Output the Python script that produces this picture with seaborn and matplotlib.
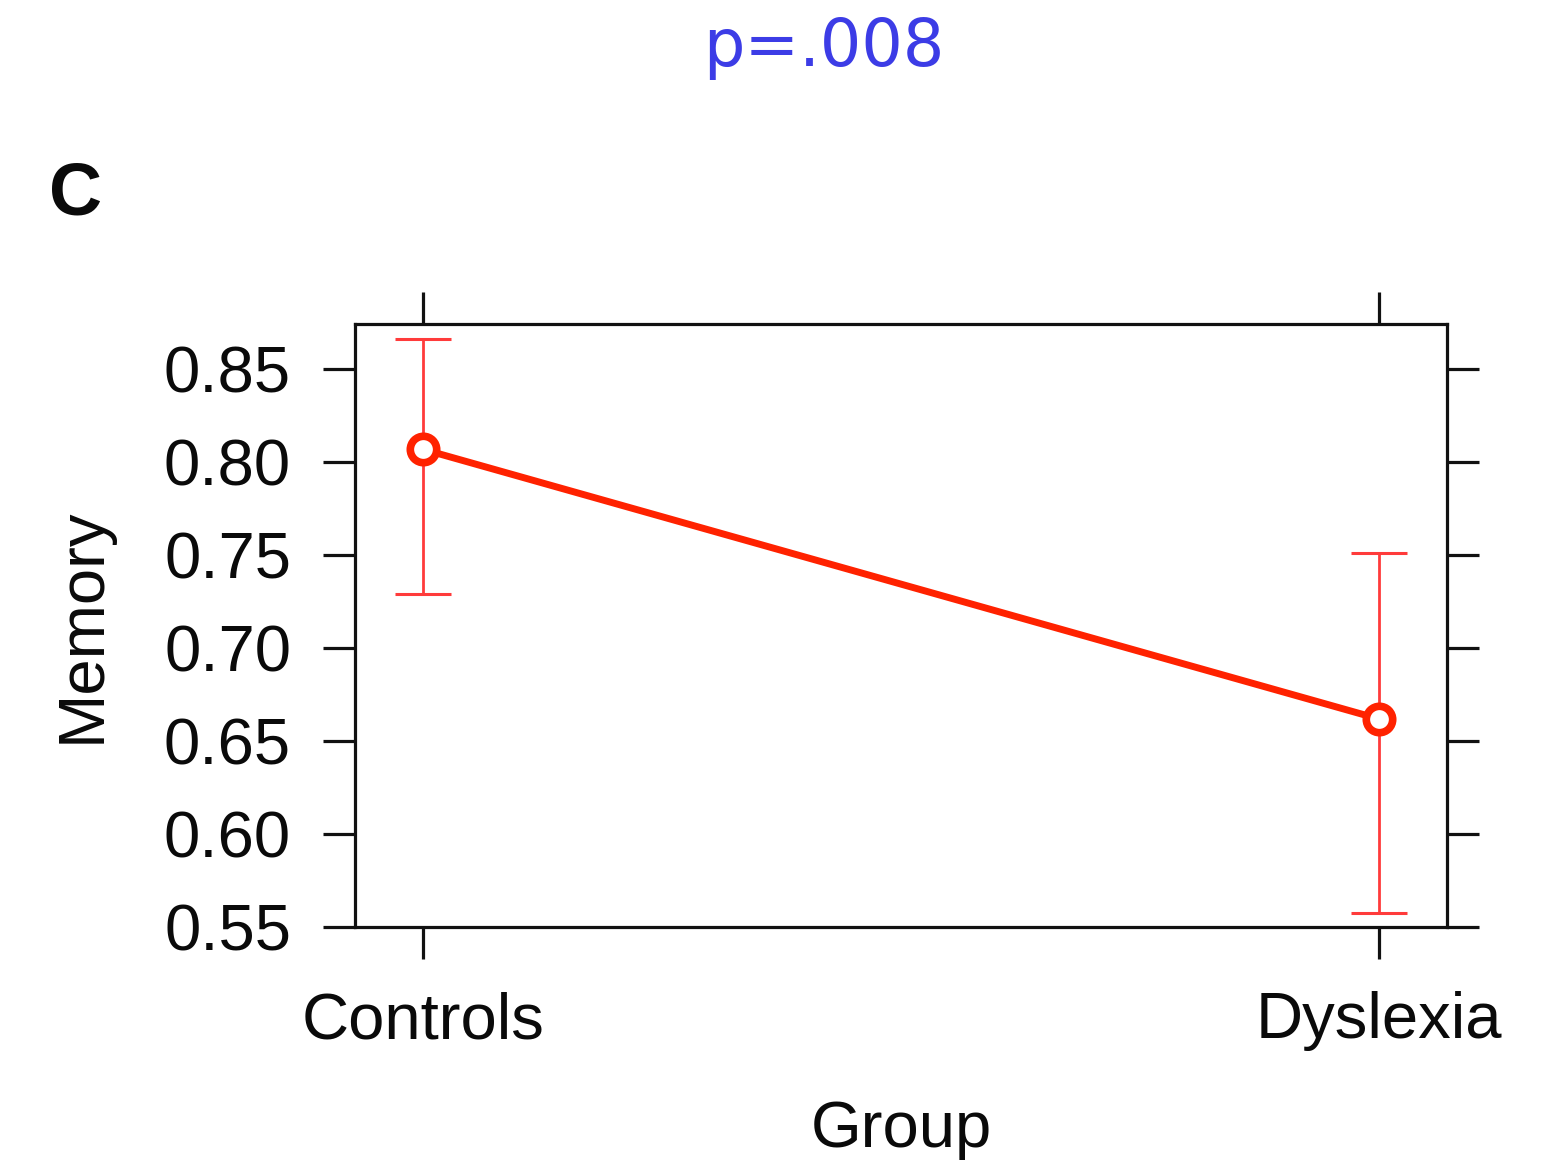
import numpy as np
import pandas as pd
import matplotlib
matplotlib.use("Agg")
import matplotlib.pyplot as plt
import seaborn as sns

# ---- data ----
groups = ["Controls", "Dyslexia"]
memory_mean = [0.807, 0.662]
ci_lower = [0.729, 0.5576]
ci_upper = [0.8665, 0.751]
y_ticks = [0.55, 0.60, 0.65, 0.70, 0.75, 0.80, 0.85]
y_tick_labels = ["0.55", "0.60", "0.65", "0.70", "0.75", "0.80", "0.85"]
p_text = "p=.008"
panel_letter = "C"

sns.set_theme(style="white")
plt.rcParams["font.family"] = ["Liberation Sans", "DejaVu Sans"]

df = pd.DataFrame({"Group": groups, "Memory": memory_mean})

W, H = 1562, 1161
fig = plt.figure(figsize=(W / 100, H / 100), dpi=100)
ax_left, ax_right, ax_top, ax_bottom = 355, 1447, 324, 927.3
ax = fig.add_axes([ax_left / W, 1 - ax_bottom / H, (ax_right - ax_left) / W, (ax_bottom - ax_top) / H])

line_red = "#ff2200"
err_red = "#ff3b3b"

# error bars (asymmetric)
xpos = np.arange(len(groups))
means = np.array(memory_mean)
yerr = np.vstack([means - np.array(ci_lower), np.array(ci_upper) - means])
ax.errorbar(xpos, means, yerr=yerr, fmt="none", ecolor=err_red, elinewidth=2.0,
            capsize=20, capthick=2.2, zorder=2)

sns.pointplot(data=df, x="Group", y="Memory", errorbar=None, color=line_red,
              markers="o", linestyles="-", ax=ax,
              markersize=19, markeredgewidth=5.5, linewidth=5,
              markerfacecolor="white", markeredgecolor=line_red)
for ln in ax.lines:
    if len(ln.get_xdata()) == len(groups):
        ln.set_zorder(3)

ax.set_xlim(-0.0714, 1.071)
ax.set_ylim(0.55, 0.8744)
ax.set_yticks(y_ticks)
ax.set_yticklabels(y_tick_labels)
ax.set_xticks(xpos)
ax.set_xticklabels(groups)

for s in ax.spines.values():
    s.set_visible(True)
    s.set_linewidth(2.3)
    s.set_color("#111111")

ax.tick_params(axis="both", which="major", direction="out", length=23, width=2.3,
               color="#111111", labelsize=47, labelcolor="#0a0a0a", pad=23,
               top=True, right=True, bottom=True, left=True,
               labeltop=False, labelright=False)
ax.grid(False)

ax.set_xlabel("Group", fontsize=47, color="#0a0a0a")
ax.set_ylabel("Memory", fontsize=47, color="#0a0a0a")
ax.yaxis.set_label_coords((113 - ax_left) / (ax_right - ax_left), 0.5)
ax.xaxis.set_label_coords(0.5, (ax_bottom - 1100) / (ax_bottom - ax_top))

fig.text(824 / W, 1 - 66 / H, p_text, ha="center", va="baseline", fontsize=47,
         color="#3c3ce6", family=["DejaVu Sans"])
fig.text(49 / W, 1 - 215 / H, panel_letter, ha="left", va="baseline", fontsize=53,
         fontweight="bold", color="#0a0a0a")

fig.savefig("out.png", dpi=100, facecolor="white")
